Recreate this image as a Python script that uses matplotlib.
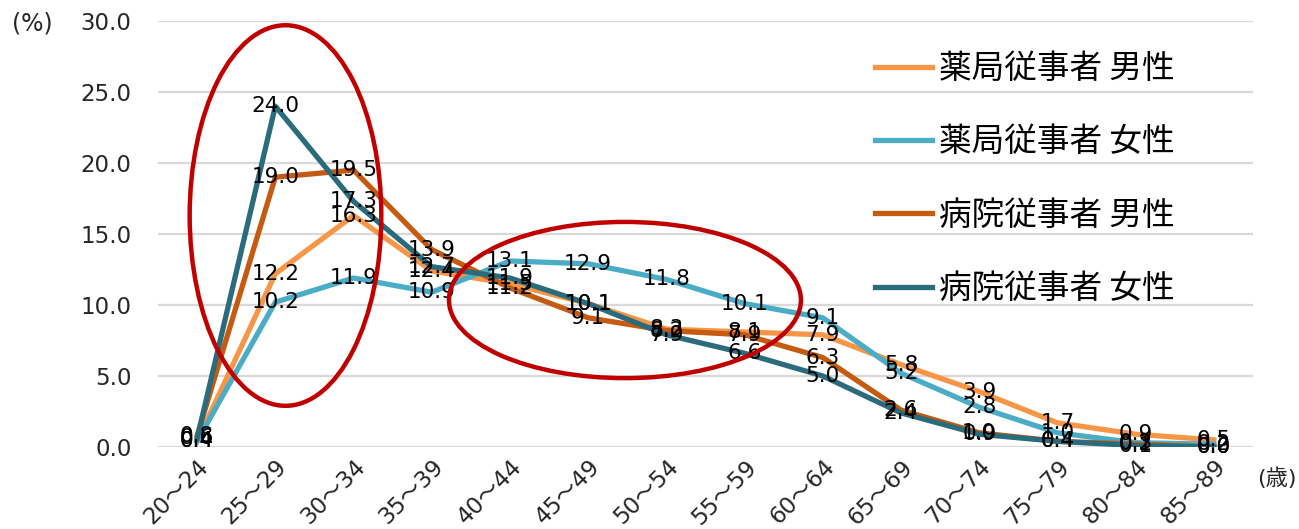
import matplotlib
matplotlib.use("Agg")
import matplotlib.pyplot as plt
from matplotlib.lines import Line2D
from matplotlib.patches import Ellipse
import numpy as np

plt.rcParams['font.family'] = ['DejaVu Sans', 'Noto Sans CJK JP']

# age bands (x axis)
ages = ['20～24', '25～29', '30～34', '35～39', '40～44', '45～49', '50～54',
        '55～59', '60～64', '65～69', '70～74', '75～79', '80～84', '85～89']

# share of workers per age band (%)
pharm_male = [0.4, 12.2, 16.3, 12.4, 11.5, 10.1, 8.3, 8.1, 7.9, 5.8, 3.9, 1.7, 0.9, 0.5]
pharm_female = [0.4, 10.2, 11.9, 10.9, 13.1, 12.9, 11.8, 10.1, 9.1, 5.2, 2.8, 1.0, 0.3, 0.2]
hosp_male = [0.8, 19.0, 19.5, 13.9, 11.2, 9.1, 8.2, 7.9, 6.3, 2.6, 1.0, 0.4, 0.2, 0.0]
hosp_female = [0.6, 24.0, 17.3, 12.7, 11.9, 10.1, 7.9, 6.6, 5.0, 2.4, 0.9, 0.4, 0.1, 0.0]

series_names = ['薬局従事者 男性', '薬局従事者 女性', '病院従事者 男性', '病院従事者 女性']
series_colors = ['#F79646', '#4BACC6', '#C55A11', '#2A6B7C']
yticks = [0, 5, 10, 15, 20, 25, 30]

# highlighted regions: (center category, center value, width in categories, height in %)
highlights = [(1.13, 16.3, 2.45, 26.8), (5.47, 10.35, 4.5, 11.0)]

fig = plt.figure(figsize=(12.99, 5.29), dpi=100)
ax = fig.add_axes([158 / 1299, 82 / 529, 1095 / 1299, 426 / 529])

x = np.arange(len(ages))
all_series = [pharm_male, pharm_female, hosp_male, hosp_female]
for vals, col in zip(all_series, series_colors):
    ax.plot(x, vals, color=col, lw=3.8, solid_joinstyle='round', zorder=3)

# value labels centred on the points
for vals in all_series:
    for xi, v in zip(x, vals):
        ax.text(xi, v, f'{v:.1f}', ha='center', va='center', fontsize=15.5,
                color='black', zorder=4)

for cx, cy, w, h in highlights:
    ax.add_patch(Ellipse((cx, cy), w, h, fill=False, ec='#C00000', lw=3.2, zorder=5))

ax.set_xlim(-0.5, 13.5)
ax.set_ylim(0, 30)
ax.set_yticks(yticks)
ax.set_yticklabels([f'{t:.1f}' for t in yticks], fontsize=16.5, color='#262626')
ax.set_xticks(x)
ax.set_xticklabels(ages, rotation=45, ha='right', va='top', rotation_mode='anchor',
                   fontsize=16.5, color='#262626')
ax.tick_params(axis='y', length=0, pad=19)
ax.tick_params(axis='x', length=0, pad=6)
ax.grid(axis='y', color='#D9D9D9', lw=1.6)
ax.set_axisbelow(True)
for s in ax.spines.values():
    s.set_visible(False)

fig.text(12 / 1299, 1 - 24 / 529, '(%)', fontsize=17, va='center', color='#262626')
fig.text(1297 / 1299, 1 - 478 / 529, '(歳)', fontsize=16, ha='right', va='center',
         color='#262626')

handles = [Line2D([], [], color=c, lw=3.8) for c in series_colors]
ax.legend(handles, series_names, loc='upper left', bbox_to_anchor=(875 / 1299, 1 - 53 / 529),
          bbox_transform=fig.transFigure, frameon=False, handlelength=1.75,
          handletextpad=0.2, labelspacing=1.27, borderpad=0, borderaxespad=0,
          prop={'family': ['Noto Sans CJK JP', 'DejaVu Sans'], 'size': 23.5})

fig.savefig('out.png', dpi=100)
